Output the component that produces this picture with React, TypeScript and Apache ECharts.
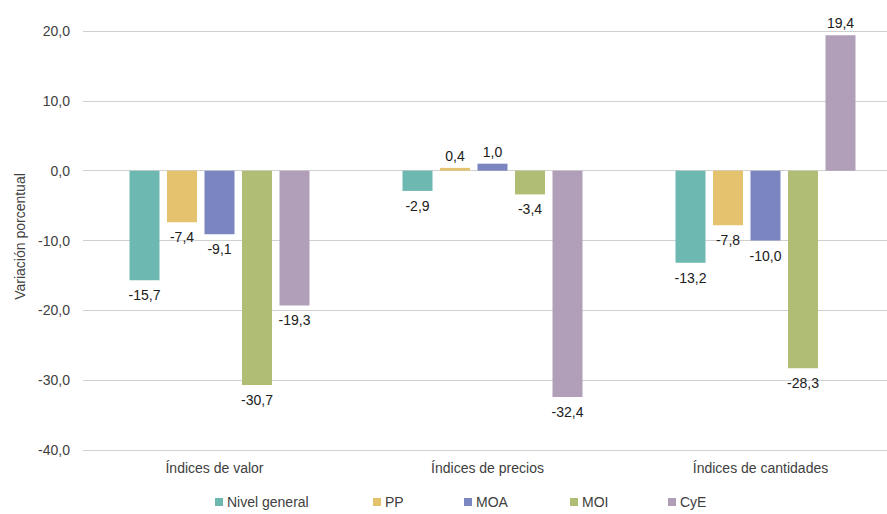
import React, { useEffect, useRef } from "react";
import * as echarts from "echarts";

const categories = ["Índices de valor", "Índices de precios", "Índices de cantidades"];
const seriesNames = ["Nivel general", "PP", "MOA", "MOI", "CyE"];
const nivelGeneral = [-15.7, -2.9, -13.2];
const pp = [-7.4, 0.4, -7.8];
const moa = [-9.1, 1.0, -10.0];
const moi = [-30.7, -3.4, -28.3];
const cye = [-19.3, -32.4, 19.4];
const seriesValues = [nivelGeneral, pp, moa, moi, cye];
const colors = ["#6DB9B2", "#E5C26E", "#7B86C0", "#B0BE75", "#B19FB9"];
const legendLefts = [215, 373, 464, 570, 668];

const fmt = (v: number) => v.toFixed(1).replace(".", ",");
const FONT = "'Liberation Sans', Arial, sans-serif";
const TXT = "#404040";

export default function App() {
  const ref = useRef<HTMLDivElement>(null);
  useEffect(() => {
    if (!ref.current) return;
    const chart = echarts.init(ref.current, undefined, { renderer: "svg" });
    chart.setOption({
      animation: false,
      textStyle: { fontFamily: FONT },
      grid: { left: 83, top: 31, right: 0, height: 419, containLabel: false },
      legend: seriesNames.map((name, i) => ({
        left: legendLefts[i],
        top: 495,
        padding: 0,
        itemWidth: 8,
        itemHeight: 8,
        icon: "rect",
        textStyle: { fontSize: 14, color: TXT, fontFamily: FONT, padding: [0, 0, 0, -1] },
        data: [name],
      })),
      xAxis: {
        type: "category",
        data: categories,
        axisLine: { show: false },
        axisTick: { show: false },
        axisLabel: { fontSize: 14, color: TXT, margin: 11, fontFamily: FONT, padding: [0, 10, 0, 0] },
      },
      yAxis: {
        type: "value",
        min: -40,
        max: 20,
        interval: 10,
        name: "Variación porcentual",
        nameLocation: "middle",
        nameGap: 56,
        nameTextStyle: { fontSize: 14, color: TXT, fontFamily: FONT, padding: [0, 0, 0, 8] },
        axisLine: { show: false },
        axisTick: { show: false },
        axisLabel: { fontSize: 14, color: TXT, margin: 13, formatter: (v: number) => fmt(v), fontFamily: FONT },
        splitLine: { lineStyle: { color: "#d0d0d0", width: 1 } },
      },
      series: seriesNames.map((name, i) => ({
        name,
        type: "bar",
        barWidth: 30,
        barGap: "25%",
        itemStyle: { color: colors[i] },
        data: seriesValues[i].map((v) => ({
          value: v,
          label: {
            show: true,
            position: v < 0 ? "bottom" : "top",
            distance: v < 0 ? 8 : 5,
            formatter: () => fmt(v),
            fontSize: 14,
            color: "#202020",
            fontFamily: FONT,
          },
        })),
      })),
    });
    return () => chart.dispose();
  }, []);
  return (
    <div style={{ position: "fixed", left: 0, top: 0, width: 887, height: 514, overflow: "hidden", background: "#fff" }}>
      <div ref={ref} style={{ width: 902, height: 514 }} />
    </div>
  );
}
